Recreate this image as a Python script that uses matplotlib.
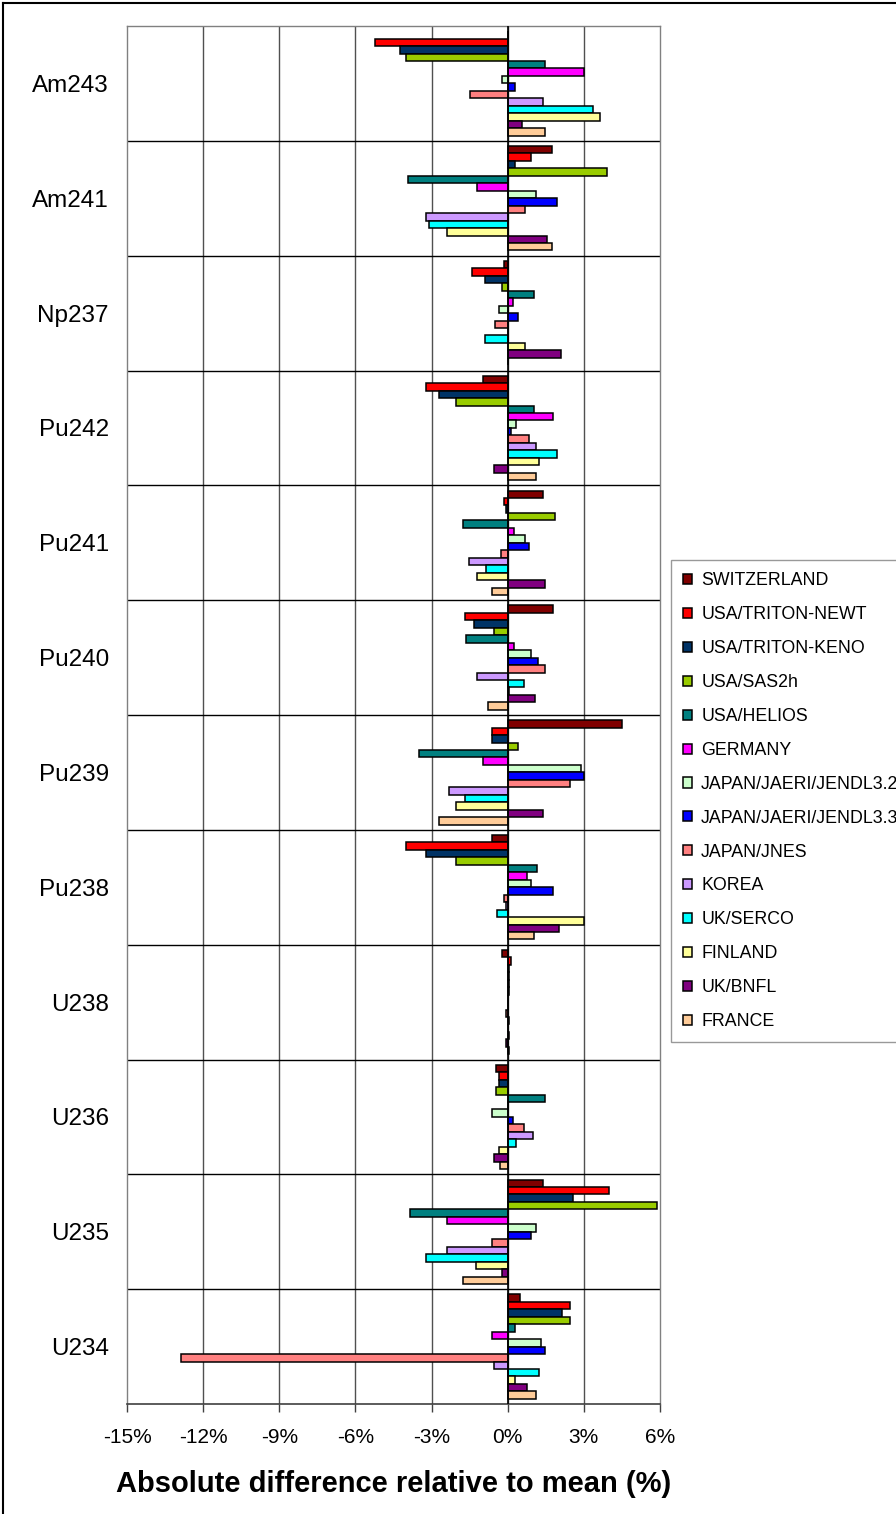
import matplotlib
matplotlib.use("Agg")
import matplotlib.pyplot as plt
from matplotlib.lines import Line2D
import numpy as np

plt.rcParams['font.family'] = ['Liberation Sans', 'DejaVu Sans']

# isotopes, bottom to top
isotopes = ["U234", "U235", "U236", "U238", "Pu238", "Pu239",
            "Pu240", "Pu241", "Pu242", "Np237", "Am241", "Am243"]

# difference relative to mean (%), same order as isotopes
switzerland = [0.48, 1.40, -0.48, -0.22, -0.63, 4.50, 1.80, 1.40, -0.98, -0.16, 1.75, 0.0]
triton_newt = [2.45, 3.99, -0.35, 0.13, -4.00, -0.63, -1.68, -0.14, -3.23, -1.41, 0.90, -5.22]
triton_keno = [2.15, 2.58, -0.35, 0.05, -3.23, -0.63, -1.34, -0.08, -2.69, -0.91, 0.27, -4.24]
sas2h = [2.45, 5.89, -0.48, 0.05, -2.03, 0.40, -0.55, 1.86, -2.03, -0.22, 3.92, -4.00]
helios = [0.27, -3.86, 1.46, 0.05, 1.17, -3.51, -1.63, -1.75, 1.04, 1.04, -3.92, 1.46]
germany = [-0.63, -2.39, 0.0, 0.05, 0.76, -0.98, 0.25, 0.25, 1.80, 0.20, -1.20, 3.00]
jendl32 = [1.32, 1.11, -0.63, 0.0, 0.90, 2.87, 0.90, 0.69, 0.34, -0.35, 1.11, -0.22]
jendl33 = [1.46, 0.90, 0.20, 0.0, 1.80, 3.00, 1.19, 0.83, 0.12, 0.42, 1.96, 0.27]
jnes = [-12.88, -0.63, 0.63, -0.08, -0.14, 2.45, 1.46, -0.27, 0.83, -0.50, 0.69, -1.47]
korea = [-0.56, -2.39, 0.98, 0.05, -0.08, -2.32, -1.20, -1.54, 1.11, 0.0, -3.23, 1.38]
uk_serco = [1.25, -3.23, 0.34, 0.0, -0.42, -1.68, 0.63, -0.85, 1.96, -0.91, -3.09, 3.35]
finland = [0.27, -1.26, -0.35, 0.05, 3.00, -2.05, 0.05, -1.20, 1.25, 0.69, -2.40, 3.62]
uk_bnfl = [0.76, -0.21, -0.55, -0.08, 2.02, 1.40, 1.06, 1.46, -0.56, 2.11, 1.54, 0.55]
france = [1.11, -1.75, -0.29, 0.05, 1.04, -2.69, -0.77, -0.63, 1.11, 0.0, 1.75, 1.46]

labels = ["SWITZERLAND", "USA/TRITON-NEWT", "USA/TRITON-KENO", "USA/SAS2h",
          "USA/HELIOS", "GERMANY", "JAPAN/JAERI/JENDL3.2", "JAPAN/JAERI/JENDL3.3",
          "JAPAN/JNES", "KOREA", "UK/SERCO", "FINLAND", "UK/BNFL", "FRANCE"]
colors = ["#800000", "#FF0000", "#003366", "#99CC00", "#008080", "#FF00FF",
          "#CCFFCC", "#0000FF", "#FF8080", "#CC99FF", "#00FFFF", "#FFFF99",
          "#800080", "#FFCC99"]
series = [switzerland, triton_newt, triton_keno, sas2h, helios, germany, jendl32,
          jendl33, jnes, korea, uk_serco, finland, uk_bnfl, france]

fig = plt.figure(figsize=(8.96, 15.14), dpi=100)
ax = fig.add_axes([127 / 896, 1 - 1404 / 1514, 533 / 896, 1378 / 1514])

y = np.arange(len(isotopes))
h = 0.065
n = len(series)
for j, (vals, lab, col) in enumerate(zip(series, labels, colors)):
    offset = ((n - 1) / 2 - j) * h
    ax.barh(y + offset, vals, height=h, color=col, edgecolor='black',
            linewidth=1.1, label=lab, zorder=3)

ax.set_xlim(-15, 6)
ax.set_ylim(-0.5, len(isotopes) - 0.5)

# grid: vertical lines at ticks, black lines between groups
for xv in range(-12, 6, 3):
    ax.axvline(xv, color='#505050', linewidth=1.0, zorder=1)
ax.axvline(0, color='black', linewidth=1.2, zorder=4)
for b in y[:-1] + 0.5:
    ax.axhline(b, color='black', linewidth=1.0, zorder=1)

for side in ['left', 'top', 'right']:
    ax.spines[side].set_color('#808080')
    ax.spines[side].set_linewidth(1.0)
ax.spines['bottom'].set_color('#404040')
ax.spines['bottom'].set_linewidth(1.2)

ax.set_xticks(range(-15, 7, 3))
ax.set_xticklabels([f"{v}%" for v in range(-15, 7, 3)], fontsize=15)
ax.tick_params(axis='x', direction='out', length=6, width=1.0, color='#404040', pad=11)
ax.set_yticks(y)
ax.set_yticklabels(isotopes, fontsize=17.5)
ax.tick_params(axis='y', length=0, pad=13)

ax.set_xlabel("Absolute difference relative to mean (%)", fontsize=21,
              fontweight='bold', labelpad=17)

leg = fig.legend(loc='upper left', bbox_to_anchor=(671 / 896, 1 - 560 / 1514),
                 fontsize=12.8, frameon=True, fancybox=False, shadow=False,
                 handlelength=0.5, handleheight=0.5, handletextpad=0.5,
                 labelspacing=0.95, borderpad=0.7, borderaxespad=0)
leg.get_frame().set_edgecolor('#808080')
leg.get_frame().set_linewidth(1.0)

# outer chart border (left and top visible)
fig.add_artist(Line2D([3 / 896, 3 / 896], [0, 1 - 3 / 1514], color='black', linewidth=1.5))
fig.add_artist(Line2D([3 / 896, 1], [1 - 3 / 1514, 1 - 3 / 1514], color='black', linewidth=1.5))

fig.savefig("out.png", dpi=100)
